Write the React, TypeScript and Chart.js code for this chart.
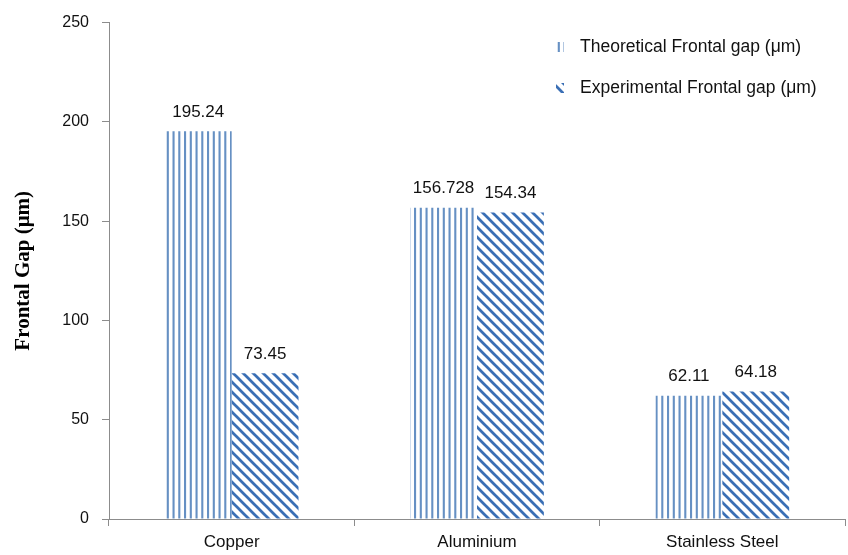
import React, { useEffect, useRef } from "react";
import { Chart, registerables } from "chart.js";

Chart.register(...registerables);

const materials = ["Copper", "Aluminium", "Stainless Steel"];
const theoreticalGap = [195.24, 156.728, 62.11];
const experimentalGap = [73.45, 154.34, 64.18];
const theoreticalLabels = ["195.24", "156.728", "62.11"];
const experimentalLabels = ["73.45", "154.34", "64.18"];
const seriesNames = ["Theoretical Frontal gap (μm)", "Experimental Frontal gap (μm)"];
const yTicks = [0, 50, 100, 150, 200, 250];

const SANS = "'Liberation Sans', Arial, sans-serif";
const SERIF = "'Liberation Serif', 'Times New Roman', serif";
const AXIS_COLOR = "#8c8c8c";
const TEXT_COLOR = "#111";

function verticalStripes(ctx: CanvasRenderingContext2D): CanvasPattern | string {
  const tile = document.createElement("canvas");
  tile.width = 23;
  tile.height = 4;
  const g = tile.getContext("2d");
  if (!g) return "#6690c3";
  g.fillStyle = "#6690c3";
  for (let i = 0; i < 4; i++) g.fillRect(i * 5.75, 0, 2.1, 4);
  return ctx.createPattern(tile, "repeat") || "#6690c3";
}

function diagonalStripes(ctx: CanvasRenderingContext2D): CanvasPattern | string {
  const s = 10;
  const tile = document.createElement("canvas");
  tile.width = s;
  tile.height = s;
  const g = tile.getContext("2d");
  if (!g) return "#3a6fb5";
  g.strokeStyle = "#3a6fb5";
  g.lineWidth = 2.7;
  for (const k of [-1, 0, 1]) {
    g.beginPath();
    g.moveTo(k * s - 2, -2);
    g.lineTo(k * s + s + 2, s + 2);
    g.stroke();
  }
  return ctx.createPattern(tile, "repeat") || "#3a6fb5";
}

const valueLabels = {
  id: "valueLabels",
  afterDatasetsDraw(chart: any) {
    const ctx: CanvasRenderingContext2D = chart.ctx;
    const texts = [theoreticalLabels, experimentalLabels];
    ctx.save();
    ctx.font = `17px ${SANS}`;
    ctx.fillStyle = TEXT_COLOR;
    ctx.textAlign = "center";
    ctx.textBaseline = "middle";
    chart.data.datasets.forEach((_: any, di: number) => {
      const meta = chart.getDatasetMeta(di);
      meta.data.forEach((bar: any, i: number) => {
        ctx.fillText(texts[di][i], bar.x, bar.y - 19);
      });
    });
    ctx.restore();
  },
};

const boxLegend = {
  id: "boxLegend",
  afterDraw(chart: any) {
    const ctx: CanvasRenderingContext2D = chart.ctx;
    const rows = [47, 88];
    ctx.save();
    ctx.font = `17.5px ${SANS}`;
    ctx.textAlign = "left";
    ctx.textBaseline = "middle";
    chart.data.datasets.forEach((ds: any, di: number) => {
      const cy = rows[di];
      ctx.fillStyle = ds.backgroundColor;
      ctx.fillRect(556, cy - 5, 8, 10);
      ctx.fillStyle = TEXT_COLOR;
      ctx.fillText(seriesNames[di], 580, cy);
    });
    ctx.restore();
  },
};

export default function App() {
  const canvasRef = useRef<HTMLCanvasElement | null>(null);

  useEffect(() => {
    const canvas = canvasRef.current;
    if (!canvas) return;
    const ctx = canvas.getContext("2d");
    if (!ctx) return;

    const chart = new Chart(canvas, {
      type: "bar",
      data: {
        labels: materials,
        datasets: [
          {
            label: seriesNames[0],
            data: theoreticalGap,
            backgroundColor: verticalStripes(ctx) as any,
            borderWidth: 0,
            categoryPercentage: 0.545,
            barPercentage: 1,
          },
          {
            label: seriesNames[1],
            data: experimentalGap,
            backgroundColor: diagonalStripes(ctx) as any,
            borderWidth: 0,
            categoryPercentage: 0.545,
            barPercentage: 1,
          },
        ],
      },
      options: {
        responsive: false,
        animation: false,
        devicePixelRatio: 1,
        layout: { padding: { top: 19, right: 3, left: 0, bottom: 0 } },
        plugins: {
          legend: { display: false },
          tooltip: { enabled: false },
        },
        scales: {
          x: {
            grid: {
              display: true,
              drawOnChartArea: false,
              drawTicks: true,
              tickLength: 7,
              color: AXIS_COLOR,
              offset: true,
            },
            border: { display: true, color: AXIS_COLOR, width: 1 },
            ticks: {
              color: TEXT_COLOR,
              font: { family: SANS, size: 17 },
              padding: 6,
            },
            afterFit: (s: any) => {
              s.height = 36;
            },
          },
          y: {
            min: 0,
            max: 250,
            afterBuildTicks: (s: any) => {
              s.ticks = yTicks.map((v) => ({ value: v }));
            },
            ticks: {
              color: TEXT_COLOR,
              font: { family: SANS, size: 16 },
              padding: 13,
            },
            grid: {
              display: true,
              drawOnChartArea: false,
              drawTicks: true,
              tickLength: 7,
              color: AXIS_COLOR,
            },
            border: { display: true, color: AXIS_COLOR, width: 1 },
            title: {
              display: true,
              text: "Frontal Gap (μm)",
              color: "#000",
              font: { family: SERIF, size: 21, weight: "bold" },
              padding: { top: 11, bottom: 0 },
            },
            afterFit: (s: any) => {
              s.width = 109;
            },
          },
        },
      },
      plugins: [valueLabels, boxLegend],
    });

    return () => chart.destroy();
  }, []);

  return (
    <div style={{ position: "fixed", left: 0, top: 0, width: 848, height: 555, background: "#fff" }}>
      <canvas ref={canvasRef} width={848} height={555} />
    </div>
  );
}
